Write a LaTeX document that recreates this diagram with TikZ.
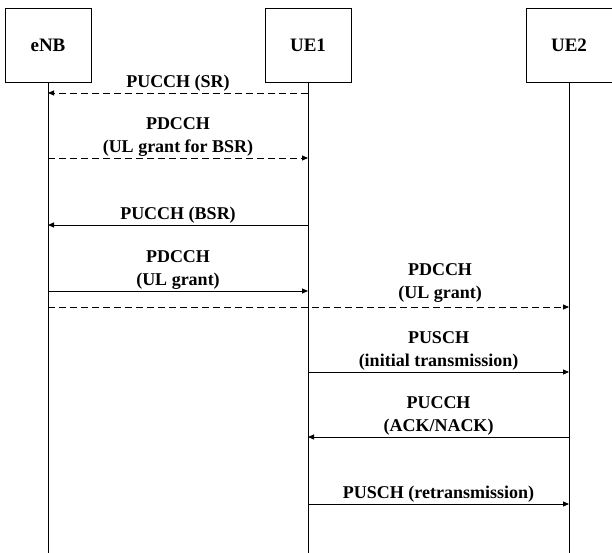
\documentclass[tikz,border=0pt]{standalone}
\usepackage{fontspec}
\setmainfont{Liberation Serif}
\usetikzlibrary{arrows.meta}
\begin{document}
\begin{tikzpicture}[x=1pt,y=-1pt,
  ent/.style={draw,line width=0.9pt,minimum width=86pt,minimum height=74pt,font=\bfseries\fontsize{19}{22}\selectfont},
  life/.style={line width=0.9pt},
  msg/.style={line width=0.9pt,-{Triangle[length=6pt,width=5pt]}},
  dmsg/.style={msg,dash pattern=on 7pt off 4pt},
  lbl/.style={font=\bfseries\fontsize{18}{23}\selectfont,align=center,inner sep=1pt}]
\useasboundingbox (0,0) rectangle (612,553);
\node[ent] (enb) at (48,45) {eNB};
\node[ent] (ue1) at (308,45) {UE1};
\node[ent] (ue2) at (569,45) {UE2};
\coordinate (enbend) at (48,553);
\coordinate (ue1end) at (308,553);
\coordinate (ue2end) at (569,553);
\draw[life] (enb.south) -- (enbend);
\draw[life] (ue1.south) -- (ue1end);
\draw[life] (ue2.south) -- (ue2end);
% message endpoints
\coordinate (a1) at (308,93);  \coordinate (b1) at (48,93);
\coordinate (a2) at (48,158);  \coordinate (b2) at (308,158);
\coordinate (a3) at (308,225); \coordinate (b3) at (48,225);
\coordinate (a4) at (48,291);  \coordinate (b4) at (308,291);
\coordinate (a5) at (48,307);  \coordinate (b5) at (569,307);
\coordinate (a6) at (308,372); \coordinate (b6) at (569,372);
\coordinate (a7) at (569,437); \coordinate (b7) at (308,437);
\coordinate (a8) at (308,504); \coordinate (b8) at (569,504);
\draw[dmsg] (a1) -- (b1) node[lbl,midway,above] (l1) {PUCCH (SR)};
\draw[dmsg] (a2) -- (b2) node[lbl,midway,above] (l2) {PDCCH\\(UL grant for BSR)};
\draw[msg] (a3) -- (b3) node[lbl,midway,above] (l3) {PUCCH (BSR)};
\draw[msg] (a4) -- (b4) node[lbl,midway,above] (l4) {PDCCH\\(UL grant)};
\draw[dmsg] (a5) -- (b5);
\node[lbl,above] (l5) at (440,304) {PDCCH\\(UL grant)};
\draw[msg] (a6) -- (b6) node[lbl,midway,above] (l6) {PUSCH\\(initial transmission)};
\draw[msg] (a7) -- (b7) node[lbl,midway,above] (l7) {PUCCH\\(ACK/NACK)};
\draw[msg] (a8) -- (b8) node[lbl,midway,above] (l8) {PUSCH (retransmission)};
\end{tikzpicture}
\end{document}
